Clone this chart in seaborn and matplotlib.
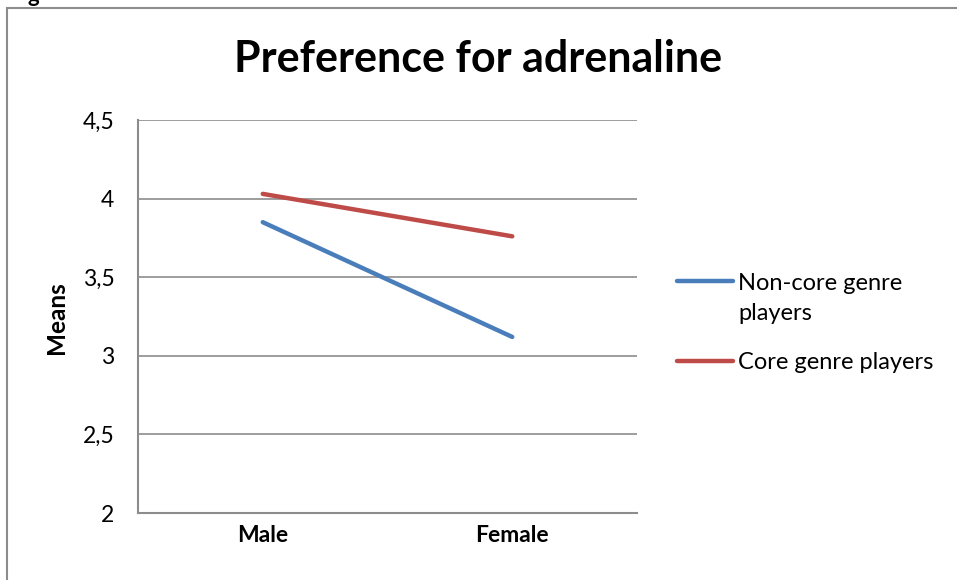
import matplotlib
matplotlib.use("Agg")
import matplotlib.pyplot as plt
import seaborn as sns
import pandas as pd
from matplotlib.patches import Rectangle

genders = ["Male", "Female"]
noncore = [3.85, 3.12]
core = [4.03, 3.76]
series_names = ["Non-core genre\nplayers", "Core genre players"]
colors = ["#4A7EBB", "#BE4B48"]
yticks = [2, 2.5, 3, 3.5, 4, 4.5]
ytick_labels = ["2", "2,5", "3", "3,5", "4", "4,5"]

sns.set_style("white")
plt.rcParams["font.family"] = ["Lato", "DejaVu Sans"]
plt.rcParams["text.color"] = "black"
plt.rcParams["xtick.color"] = "black"
plt.rcParams["ytick.color"] = "black"
plt.rcParams["axes.labelcolor"] = "black"

df = pd.DataFrame({
    "Gender": genders * 2,
    "Mean": noncore + core,
    "Series": [series_names[0]] * 2 + [series_names[1]] * 2,
})

fig = plt.figure(figsize=(9.57, 5.8), dpi=100)
ax = fig.add_axes([138 / 957, 1 - 513 / 580, (637 - 138) / 957, (513 - 120) / 580])

sns.lineplot(data=df, x="Gender", y="Mean", hue="Series", palette=colors,
             linewidth=3.2, ax=ax, sort=False, legend=True)

ax.set_xlim(-0.5, 1.5)
ax.set_ylim(2, 4.5)
ax.set_yticks(yticks)
ax.set_yticklabels(ytick_labels, fontsize=16.5)
for t in ax.get_xticklabels():
    t.set_fontweight("bold")
    t.set_fontsize(16.5)
ax.tick_params(axis="x", length=0, pad=9)
ax.tick_params(axis="y", length=0, pad=17)
ax.yaxis.grid(True, color="#8C8C8C", linewidth=1.2)
ax.set_axisbelow(True)
for s in ["top", "right"]:
    ax.spines[s].set_visible(False)
for s in ["left", "bottom"]:
    ax.spines[s].set_color("#8C8C8C")
    ax.spines[s].set_linewidth(1.5)
ax.set_xlabel("")
ax.set_ylabel("Means", fontsize=17.5, fontweight="bold")
ax.yaxis.set_label_coords((68 - 138) / 499, 0.496)

fig.text(478 / 957, 1 - 59 / 580, "Preference for adrenaline", ha="center", va="center",
         fontsize=31, fontweight="bold")

leg = ax.legend(loc="upper left", bbox_to_anchor=(656 / 957, 1 - 252 / 580),
                bbox_transform=fig.transFigure, frameon=False, fontsize=17,
                handlelength=2.37, handletextpad=0.2, labelspacing=1.2)
for t in leg.get_texts():
    t.set_linespacing(1.5)
# align the first handle with the first text line
hl = leg.get_lines()[0]
hl.set_ydata([y + 12.8 for y in hl.get_ydata()])

# chart area border
fig.patches.append(Rectangle((7 / 957, -0.05), 1.0, 1 - 8 / 580 + 0.05,
                             transform=fig.transFigure, fill=False,
                             edgecolor="#8C8C8C", linewidth=1.5))
fig.text(27 / 957, 1 + 4 / 580, "g", fontsize=16, fontweight="bold", va="center", ha="left")

fig.savefig("out.png", dpi=100)
